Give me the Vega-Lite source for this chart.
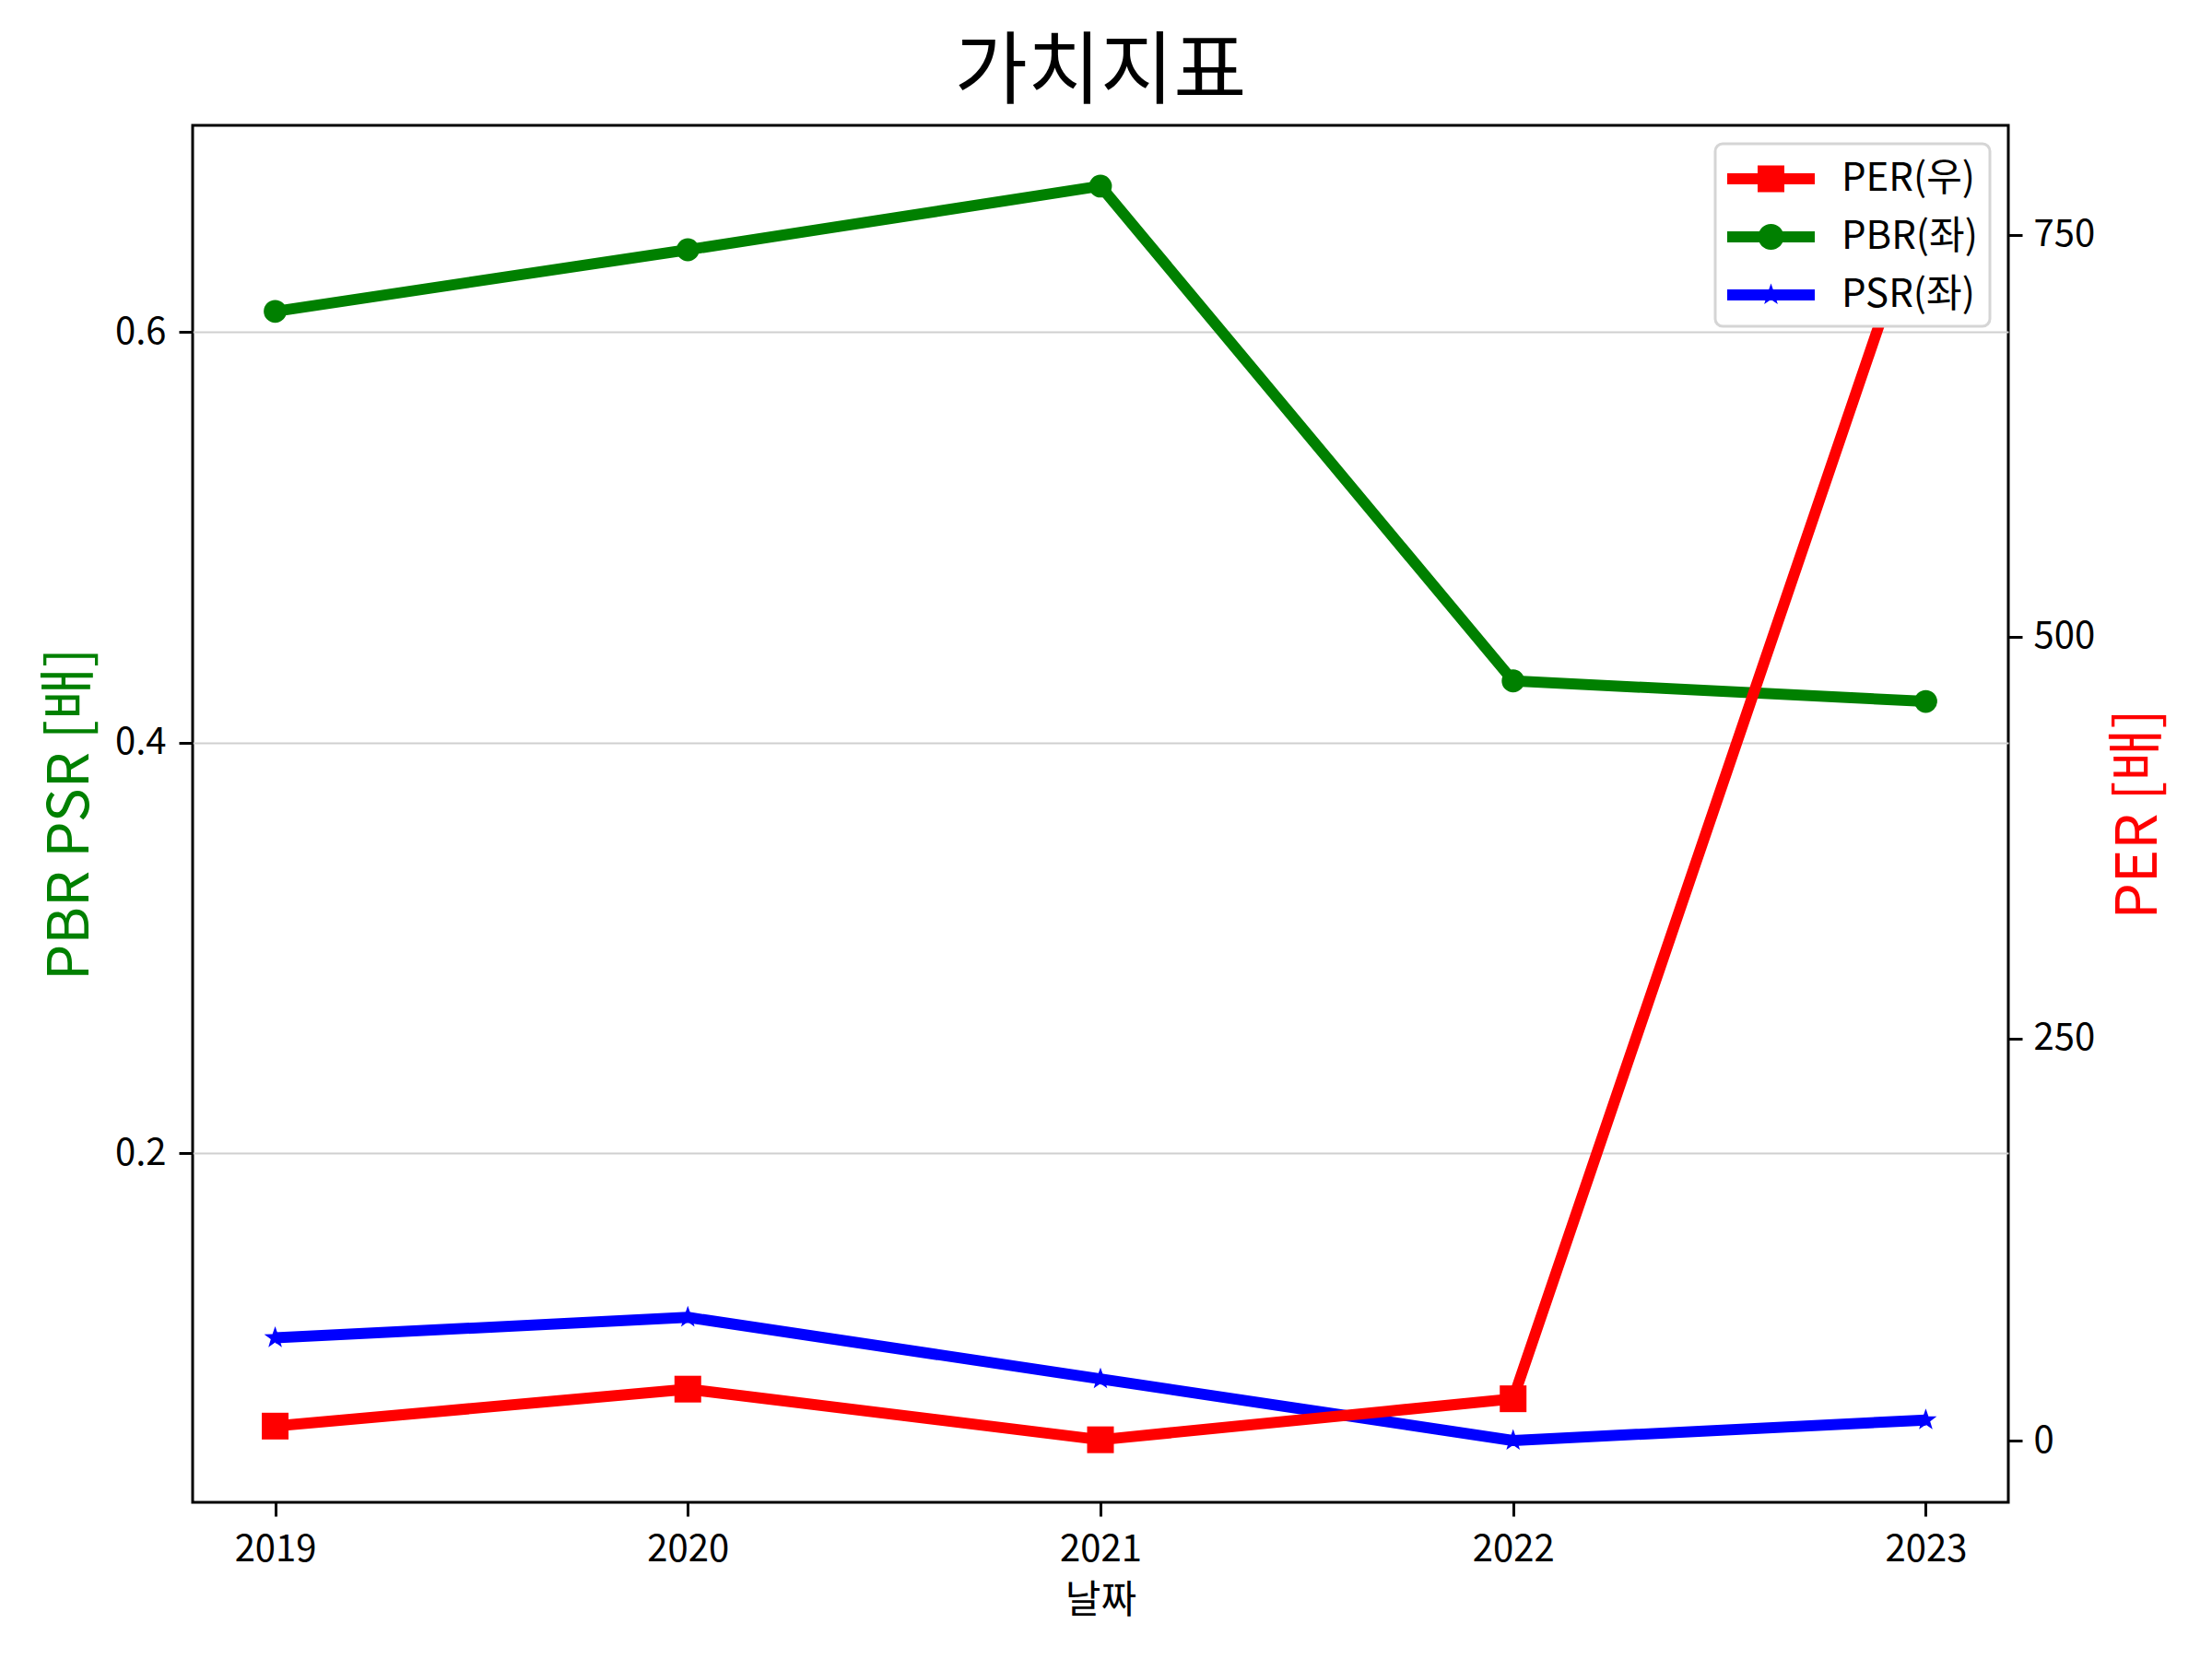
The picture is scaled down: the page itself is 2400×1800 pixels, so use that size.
{
  "$schema": "https://vega.github.io/schema/vega-lite/v6.json",
  "width": 1970,
  "height": 1494,
  "autosize": {"type": "none"},
  "padding": {"left": 209, "top": 136, "right": 221, "bottom": 170},
  "background": "white",
  "title": {"text": "가치지표", "fontSize": 86, "font": "Noto Sans CJK KR", "fontWeight": "normal", "anchor": "middle", "offset": 12, "color": "black"},
  "config": {
    "view": {"stroke": "black", "strokeWidth": 3},
    "font": "Noto Sans CJK KR",
    "axis": {"labelFont": "Noto Sans CJK KR", "titleFont": "Noto Sans CJK KR", "labelFontSize": 40, "titleFontWeight": "normal", "labelColor": "black", "tickColor": "black", "tickWidth": 3, "tickSize": 15, "domain": false},
    "legend": {"strokeWidth": 3}
  },
  "data": {
    "values": [
      {"year": "2019", "series": "PER(우)", "value": 9},
      {"year": "2020", "series": "PER(우)", "value": 32},
      {"year": "2021", "series": "PER(우)", "value": 0.5},
      {"year": "2022", "series": "PER(우)", "value": 26},
      {"year": "2023", "series": "PER(우)", "value": 779},
      {"year": "2019", "series": "PBR(좌)", "value": 0.61},
      {"year": "2020", "series": "PBR(좌)", "value": 0.64},
      {"year": "2021", "series": "PBR(좌)", "value": 0.671},
      {"year": "2022", "series": "PBR(좌)", "value": 0.43},
      {"year": "2023", "series": "PBR(좌)", "value": 0.42},
      {"year": "2019", "series": "PSR(좌)", "value": 0.11},
      {"year": "2020", "series": "PSR(좌)", "value": 0.12},
      {"year": "2021", "series": "PSR(좌)", "value": 0.09},
      {"year": "2022", "series": "PSR(좌)", "value": 0.06},
      {"year": "2023", "series": "PSR(좌)", "value": 0.07}
    ]
  },
  "encoding": {
    "x": {"field": "year", "type": "ordinal", "scale": {"type": "point", "padding": 0.2},
      "axis": {"title": "날짜", "labelAngle": 0, "titleFontSize": 42, "labelPadding": 16, "titlePadding": 15, "grid": false}}
  },
  "layer": [
    {
      "encoding": {
        "y": {"field": "value", "type": "quantitative",
          "scale": {"domain": [0.0299, 0.7006], "nice": false, "zero": false},
          "axis": {"title": "PBR PSR [배]", "titleColor": "green", "titleFontSize": 62, "values": [0.2, 0.4, 0.6], "format": ".1f", "grid": true, "gridColor": "#d0d0d0", "gridWidth": 2, "labelPadding": 14, "titlePadding": 16}}
      },
      "layer": [
        {
          "transform": [{"filter": "datum.series === 'PBR(좌)'"}],
          "mark": {"type": "line", "strokeWidth": 12, "strokeJoin": "round", "color": "#008000"}
        },
        {
          "transform": [{"filter": "datum.series === 'PSR(좌)'"}],
          "mark": {"type": "line", "strokeWidth": 12, "strokeJoin": "round", "color": "#0000ff"}
        },
        {
          "transform": [{"filter": "datum.series === 'PBR(좌)'"}],
          "mark": {"type": "point", "shape": "circle", "filled": true, "opacity": 1, "size": 616, "color": "#008000"}
        },
        {
          "transform": [{"filter": "datum.series === 'PSR(좌)'"}],
          "mark": {"type": "point", "shape": "M0,-1L0.2351,-0.3236L0.9511,-0.309L0.3804,0.1236L0.5878,0.809L0,0.4L-0.5878,0.809L-0.3804,0.1236L-0.9511,-0.309L-0.2351,-0.3236Z", "filled": true, "opacity": 1, "size": 625, "color": "#0000ff"}
        },
        {
          "mark": {"type": "point", "filled": true, "opacity": 0, "size": 2500},
          "encoding": {
            "y": {"datum": 0.3},
            "color": {"field": "series", "type": "nominal",
              "scale": {"domain": ["PER(우)", "PBR(좌)", "PSR(좌)"], "range": ["#ff0000", "#008000", "#0000ff"]},
              "legend": {"title": null, "orient": "top-right", "offset": 20, "padding": 13, "rowPadding": 17, "labelFontSize": 42, "labelFont": "Noto Sans CJK KR", "labelColor": "black", "labelOffset": 74, "symbolSize": 2500, "symbolStrokeWidth": 0, "symbolOpacity": 1, "strokeColor": "#d5d5d5", "fillColor": "white", "cornerRadius": 8}},
            "shape": {"field": "series", "type": "nominal",
              "scale": {"domain": ["PER(우)", "PBR(좌)", "PSR(좌)"], "range": [
                "M-1,-0.24H2.8V0.24H-1Z M0.32,-0.58H1.48V0.58H0.32Z",
                "M-1,-0.24H2.8V0.24H-1Z M1.46,0A0.56,0.56 0 1,1 0.34,0A0.56,0.56 0 1,1 1.46,0Z",
                "M-1,-0.24H2.8V0.24H-1Z M0.9,-0.5L1.0176,-0.1618L1.3755,-0.1545L1.0902,0.0618L1.1939,0.4045L0.9,0.2L0.6061,0.4045L0.7098,0.0618L0.4245,-0.1545L0.7824,-0.1618Z"
              ]},
              "legend": {"title": null, "orient": "top-right", "offset": 20, "padding": 13, "rowPadding": 17, "labelFontSize": 42, "labelFont": "Noto Sans CJK KR", "labelColor": "black", "labelOffset": 74, "symbolSize": 2500, "symbolStrokeWidth": 0, "symbolOpacity": 1, "strokeColor": "#d5d5d5", "fillColor": "white", "cornerRadius": 8}}
          }
        }
      ]
    },
    {
      "transform": [{"filter": "datum.series === 'PER(우)'"}],
      "encoding": {
        "y": {"field": "value", "type": "quantitative",
          "scale": {"domain": [-38.4, 818], "nice": false, "zero": false},
          "axis": {"orient": "right", "title": "PER [배]", "titleColor": "red", "titleFontSize": 62, "titleAngle": 270, "values": [0, 250, 500, 750], "grid": false, "labelPadding": 12, "titlePadding": 80}}
      },
      "layer": [
        {"mark": {"type": "line", "strokeWidth": 12, "strokeJoin": "round", "color": "#ff0000"}},
        {"mark": {"type": "point", "shape": "square", "filled": true, "opacity": 1, "size": 841, "color": "#ff0000"}}
      ]
    }
  ],
  "resolve": {"scale": {"y": "independent"}}
}
